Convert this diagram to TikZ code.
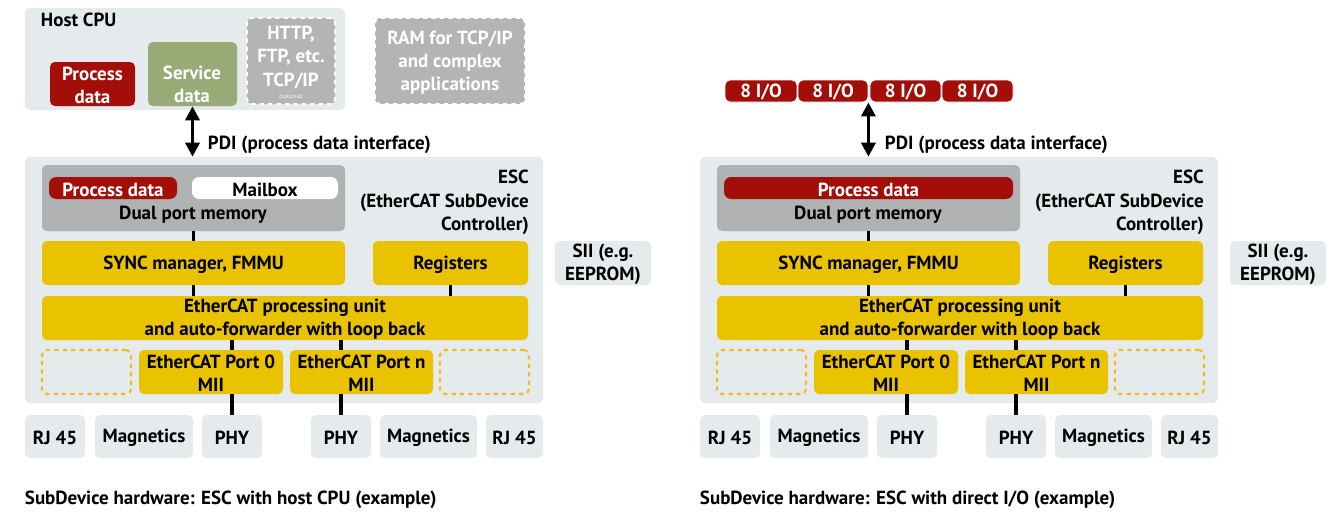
\documentclass[tikz,border=0pt]{standalone}
\usepackage{fontspec}
\setmainfont{PT Sans}
\usetikzlibrary{positioning,fit,arrows.meta}

\definecolor{escgray}{HTML}{E5EAED}
\definecolor{dpmgray}{HTML}{B0B1B3}
\definecolor{pdred}{HTML}{A30E08}
\definecolor{svgreen}{HTML}{98AA76}
\definecolor{ecyellow}{HTML}{EAC300}
\definecolor{dashyellow}{HTML}{F5BA1E}
\definecolor{optgray}{HTML}{B4B4B4}

\tikzset{
  box/.style={rectangle, rounded corners=3.5pt, inner sep=0pt},
  lbl/.style={label={[align=center, yshift=-1pt]center:#1}},
  wlbl/.style={label={[align=center, yshift=-1pt, text=white]center:#1}},
  bgbox/.style={box, fill=escgray},
  redbox/.style={box, fill=pdred},
  greenbox/.style={box, fill=svgreen},
  optbox/.style={box, fill=optgray, draw=white, dashed, line width=1.2pt},
  dpmbox/.style={box, fill=dpmgray},
  pill/.style={box, rounded corners=5pt},
  yelbox/.style={box, fill=ecyellow},
  freeport/.style={box, draw=dashyellow, dashed, line width=1.5pt},
  iobox/.style={box, fill=pdred, draw=white, line width=0.6pt},
  conn/.style={line width=2.6pt},
  pdiarrow/.style={line width=2.4pt, {Triangle[length=10pt,width=10pt]}-{Triangle[length=10pt,width=10pt]}}
}

\begin{document}
\begin{tikzpicture}[x=0.025cm, y=-0.025cm, every node/.style={font=\fontsize{13.5}{16.5}\selectfont\bfseries}]
\useasboundingbox (0,0) rectangle (1335,513);

% host CPU side
\node[bgbox, fit={(25,8)(345,110)}] (host) {};
\node[anchor=west] (hostlbl) at (36,20) {Host CPU};
\node[redbox, fit={(50,62)(135,106)}, wlbl={Process\\data}] (hostpd) {};
\node[greenbox, fit={(148,42)(237,106)}] (svc) {};
\node[text=white, align=center] (svclbl) at (192,84) {Service\\data};
\node[optbox, fit={(247,18)(335,104)}] (http) {};
\node[text=white, align=center] (httplbl) at (291,46) {HTTP,\\FTP, etc.};
\node[text=white] (tcplbl) at (291,81) {TCP/IP};
\node[text=white, font=\fontsize{4}{5}\selectfont] (optlbl) at (291,97) {(optional)};
\node[optbox, fit={(375,18)(525,104)}, wlbl={RAM for TCP/IP\\and complex\\applications}] (ram) {};

\node[bgbox, fit={(25,157)(543,403)}] (escl) {};
\draw[pdiarrow] (svc.south) -- (svc.south |- escl.north);
\node[anchor=west] (pdil) at (203,145) {PDI (process data interface)};

\node[dpmbox, fit={(42,165)(345,231)}] (dpml) {};
\node[pill, fill=pdred, fit={(49,177)(177,199)}, wlbl={Process data}] (pdl) {};
\node[pill, fill=white, fit={(192,177)(338,199)}, lbl={Mailbox}] (mbox) {};
\node (dpmlbll) at (193,215) {Dual port memory};
\node[anchor=north east, align=right, inner sep=0pt] (esclbll) at (529,170) {ESC\\(EtherCAT SubDevice\\Controller)};

\node[yelbox, fit={(42,241)(345,285)}, lbl={SYNC manager, FMMU}] (syncl) {};
\node[yelbox, fit={(373,241)(528,285)}, lbl={Registers}] (regl) {};
\node[bgbox, fit={(555,241)(651,285)}, lbl={SII (e.g.\\EEPROM)}] (siil) {};
\node[yelbox, fit={(42,296)(528,340)}, lbl={EtherCAT processing unit\\and auto-forwarder with loop back}] (epul) {};

\node[freeport, fit={(42,350)(131,394)}] (fpal) {};
\node[yelbox, fit={(139,350)(283,394)}, lbl={EtherCAT Port 0\\MII}] (p0l) {};
\node[yelbox, fit={(290,350)(433,394)}, lbl={EtherCAT Port n\\MII}] (pnl) {};
\node[freeport, fit={(440,350)(529,394)}] (fpbl) {};

\node[bgbox, fit={(25,415)(85,458)}, lbl={RJ 45}] (rjal) {};
\node[bgbox, fit={(95,415)(193,458)}, lbl={Magnetics}] (magal) {};
\node[bgbox, fit={(202,415)(262,458)}, lbl={PHY}] (phyal) {};
\node[bgbox, fit={(311,415)(371,458)}, lbl={PHY}] (phybl) {};
\node[bgbox, fit={(380,415)(477,458)}, lbl={Magnetics}] (magbl) {};
\node[bgbox, fit={(486,415)(543,458)}, lbl={RJ 45}] (rjbl) {};

\draw[conn] (dpml.south) -- (syncl.north);
\draw[conn] (syncl.south) -- (syncl.south |- epul.north);
\draw[conn] (regl.south) -- (regl.south |- epul.north);
\draw[conn] (epul.south -| phyal) -- (p0l.north -| phyal);
\draw[conn] (p0l.south -| phyal) -- (phyal.north);
\draw[conn] (epul.south -| phybl) -- (pnl.north -| phybl);
\draw[conn] (pnl.south -| phybl) -- (phybl.north);

\node[anchor=west] (capl) at (20,500) {SubDevice hardware: ESC with host CPU (example)};

% direct I/O side
\node[iobox, fit={(725,80)(797,102)}, wlbl={8 I/O}] (io1) {};
\node[iobox, fit={(798,80)(868,102)}, wlbl={8 I/O}] (io2) {};
\node[iobox, fit={(870,80)(941,102)}, wlbl={8 I/O}] (io3) {};
\node[iobox, fit={(942,80)(1013,102)}, wlbl={8 I/O}] (io4) {};

\node[bgbox, fit={(700,157)(1218,403)}] (escr) {};
\draw[pdiarrow] (io2.south east) -- (io2.south east |- escr.north);
\node[anchor=west] (pdir) at (880,145) {PDI (process data interface)};

\node[dpmbox, fit={(717,165)(1020,231)}] (dpmr) {};
\node[pill, fill=pdred, fit={(724,177)(1013,199)}, wlbl={Process data}] (pdr) {};
\node (dpmlblr) at (868,215) {Dual port memory};
\node[anchor=north east, align=right, inner sep=0pt] (esclblr) at (1204,170) {ESC\\(EtherCAT SubDevice\\Controller)};

\node[yelbox, fit={(717,241)(1020,285)}, lbl={SYNC manager, FMMU}] (syncr) {};
\node[yelbox, fit={(1048,241)(1203,285)}, lbl={Registers}] (regr) {};
\node[bgbox, fit={(1230,241)(1326,285)}, lbl={SII (e.g.\\EEPROM)}] (siir) {};
\node[yelbox, fit={(717,296)(1203,340)}, lbl={EtherCAT processing unit\\and auto-forwarder with loop back}] (epur) {};

\node[freeport, fit={(717,350)(806,394)}] (fpar) {};
\node[yelbox, fit={(814,350)(958,394)}, lbl={EtherCAT Port 0\\MII}] (p0r) {};
\node[yelbox, fit={(965,350)(1108,394)}, lbl={EtherCAT Port n\\MII}] (pnr) {};
\node[freeport, fit={(1115,350)(1204,394)}] (fpbr) {};

\node[bgbox, fit={(700,415)(760,458)}, lbl={RJ 45}] (rjar) {};
\node[bgbox, fit={(770,415)(868,458)}, lbl={Magnetics}] (magar) {};
\node[bgbox, fit={(877,415)(937,458)}, lbl={PHY}] (phyar) {};
\node[bgbox, fit={(986,415)(1046,458)}, lbl={PHY}] (phybr) {};
\node[bgbox, fit={(1055,415)(1152,458)}, lbl={Magnetics}] (magbr) {};
\node[bgbox, fit={(1161,415)(1218,458)}, lbl={RJ 45}] (rjbr) {};

\draw[conn] (dpmr.south) -- (syncr.north);
\draw[conn] (syncr.south) -- (syncr.south |- epur.north);
\draw[conn] (regr.south) -- (regr.south |- epur.north);
\draw[conn] (epur.south -| phyar) -- (p0r.north -| phyar);
\draw[conn] (p0r.south -| phyar) -- (phyar.north);
\draw[conn] (epur.south -| phybr) -- (pnr.north -| phybr);
\draw[conn] (pnr.south -| phybr) -- (phybr.north);

\node[anchor=west] (capr) at (695,500) {SubDevice hardware: ESC with direct I/O (example)};
\end{tikzpicture}
\end{document}
